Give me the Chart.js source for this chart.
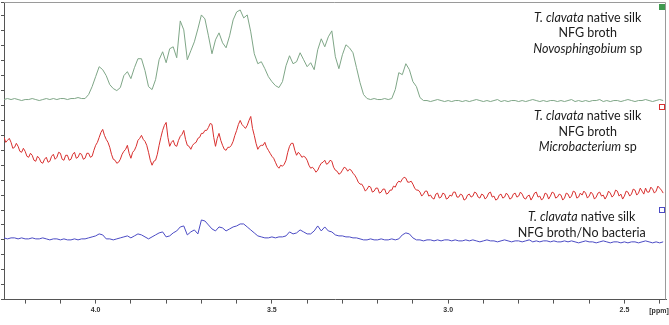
<!DOCTYPE html>
<html>
<head>
<meta charset="utf-8">
<script src="https://cdn.jsdelivr.net/npm/chart.js@4.4.1/dist/chart.umd.min.js"></script>
<style>
  html, body { margin: 0; padding: 0; background: #fff; }
  canvas { display: block; }
</style>
</head>
<body>
<canvas id="nmr" width="669" height="325"></canvas>
<script>
  // chemical shift grid: first point and spacing (ppm), axis runs high -> low
  const ppmStart = 4.26;
  const ppmStep = 0.01;
  const ppmStepFine = 0.005;   // red trace is read at twice the density (noisy)
  const ppmMin = 2.382;
  const ppmMax = 4.26;

  // Novosphingobium sp (top trace, green)
  const novosphingobium = [
    201,202,201,202,201,200,201,201,202,201,200,201,202,201,202,201,202,202,201,202,202,203,202,202,
    206,214,224,234,231,225,216,212,210,213,
    225,229,222,233,242,242,230,214,211,221,
    241,249,238,252,254,243,280,271,241,250,
    259,272,286,282,265,247,261,268,258,253,
    265,281,289,291,283,286,269,247,237,239,
    232,224,219,215,213,219,235,245,237,239,
    248,241,234,238,231,251,262,254,264,270,
    244,232,246,256,253,248,233,218,206,202,
    201,202,201,201,202,201,202,211,228,226,
    237,231,219,214,203,200,
    200,199,200,201,200,199,200,199,200,200,
    199,200,199,200,201,200,199,200,199,200,
    201,199,200,199,200,200,199,200,199,200,
    201,200,199,200,199,200,200,199,200,199,
    200,201,199,200,199,200,199,200,200,201,
    199,200,199,200,200,199,200,201,200,199,
    200,200,201,200,199,200,201,200
  ];

  // Microbacterium sp (middle trace, red) - 0.005 ppm spacing
  const microbacterium = [
    163,158,160,162,158,152,153,157,154,149,148,152,149,144,143,147,145,140,139,144,
    142,138,137,141,143,138,139,144,146,141,143,148,147,141,140,145,145,140,141,146,
    148,142,143,147,146,141,142,147,147,143,144,150,155,158,163,168,171,165,161,158,
    153,146,141,140,137,138,141,146,149,151,155,147,142,148,150,154,160,162,165,161,
    159,155,148,140,135,139,140,146,155,163,170,175,178,163,154,158,160,155,154,160,
    164,166,170,161,155,154,151,155,157,158,162,163,167,167,170,170,173,177,176,163,
    154,162,167,160,155,151,150,153,153,155,159,165,170,176,180,176,174,172,175,180,
    184,172,165,157,151,154,155,155,158,153,150,147,144,142,138,134,132,135,134,136,
    140,148,154,157,157,150,145,148,146,143,144,143,140,135,132,133,131,128,130,134,
    137,138,140,136,137,140,139,133,130,129,126,127,130,133,132,129,131,130,127,125,
    122,118,116,116,113,109,111,114,113,108,109,112,112,107,108,111,111,106,107,110,
    110,114,113,117,119,118,121,123,122,118,118,119,116,112,110,110,108,104,106,109,
    109,104,105,102,101,106,107,102,103,107,106,101,102,105,104,108,108,103,103,106,
    105,100,101,105,106,103,104,108,107,103,102,106,105,101,103,107,108,103,104,100,
    101,105,106,102,103,107,105,101,102,106,107,103,104,108,106,102,101,104,105,100,
    103,107,108,103,104,100,102,107,106,101,104,108,107,102,103,106,105,100,102,107,
    106,102,104,109,108,102,103,107,105,109,107,102,104,108,106,101,103,107,108,104,
    105,101,104,109,107,103,105,110,109,104,106,101,104,109,108,104,106,111,110,105,
    107,112,109,106,112,108,108,113,111,107,109,114,112,110,107
  ];

  // no bacteria control (bottom trace, blue)
  const noBacteria = [
    62,61,62,62,61,62,61,61,62,61,
    61,62,61,60,61,61,60,61,60,60,
    61,60,61,61,62,63,64,66,65,61,
    61,60,61,62,63,64,62,64,66,65,
    63,61,63,65,67,68,63,64,67,69,
    73,74,65,68,70,66,80,79,75,71,
    69,73,72,69,71,73,74,76,76,73,
    70,67,64,63,62,62,63,62,63,63,
    64,68,66,67,70,68,66,66,69,74,
    69,73,69,68,65,64,64,63,63,62,
    62,61,60,60,61,60,60,61,60,60,
    61,60,61,65,67,66,62,60,60,59,
    60,60,59,60,59,60,60,59,60,59,
    59,60,59,60,59,58,59,60,59,59,
    58,59,60,59,58,59,59,58,59,60,
    58,59,58,59,59,58,59,58,58,59,
    58,59,58,57,58,59,58,58,57,58,
    59,58,57,58,58,57,58,57,58,58,
    57,58,59,58,57,58,57,58
  ];

  const seriesColors = ['#7fa687', '#d8302f', '#4b4bc4'];

  // labels: [text, italic] pieces per line
  const labelBlocks = [
    { x: 2.604, y: 283, lines: [[['T. clavata', true], [' native silk', false]], [['NFG broth', false]], [['Novosphingobium', true], [' sp', false]]] },
    { x: 2.604, y: 184, lines: [[['T. clavata', true], [' native silk', false]], [['NFG broth', false]], [['Microbacterium', true], [' sp', false]]] },
    { x: 2.621, y: 83,  lines: [[['T. clavata', true], [' native silk', false]], [['NFG broth/No bacteria', false]]] }
  ];
  const markerLevels = [297, 196.5, 93.5];

  const toPoints = (vals, step) => vals.map((v, i) => ({ x: +(ppmStart - i * step).toFixed(3), y: v }));

  const decor = {
    id: 'decor',
    afterDraw(chart) {
      const { ctx, chartArea: a, scales: { x, y } } = chart;
      ctx.save();
      // frame
      ctx.strokeStyle = '#9a9a9a';
      ctx.lineWidth = 1;
      ctx.beginPath();
      ctx.moveTo(a.left, a.top + 0.5);
      ctx.lineTo(a.right - 0.5, a.top + 0.5);
      ctx.lineTo(a.right - 0.5, a.bottom);
      ctx.stroke();

      // trace markers at right edge
      markerLevels.forEach((lv, k) => {
        const py = Math.round(y.getPixelForValue(lv));
        if (k === 0) {
          ctx.fillStyle = '#3f9a4f';
          ctx.fillRect(a.right - 7, py, 6, 6);
        } else {
          ctx.strokeStyle = seriesColors[k];
          ctx.strokeRect(a.right - 6.5, py + 0.5, 5, 5);
        }
      });

      // annotation text
      ctx.fillStyle = '#1c1c1c';
      ctx.textBaseline = 'middle';
      ctx.textAlign = 'left';
      labelBlocks.forEach(b => {
        const cx = x.getPixelForValue(b.x);
        const top = y.getPixelForValue(b.y);
        b.lines.forEach((parts, li) => {
          let w = 0;
          parts.forEach(([t, it]) => {
            ctx.font = (it ? 'italic ' : '') + '12.5px Lato';
            w += ctx.measureText(t).width;
          });
          let px = cx - w / 2;
          parts.forEach(([t, it]) => {
            ctx.font = (it ? 'italic ' : '') + '12.5px Lato';
            ctx.fillText(t, px, top + li * 15.5);
            px += ctx.measureText(t).width;
          });
        });
      });

      // unit label
      ctx.font = 'bold 7px "Liberation Sans"';
      ctx.fillStyle = '#333';
      ctx.textAlign = 'center';
      ctx.fillText('[ppm]', a.right - 7, a.bottom + 11);
      ctx.restore();
    }
  };

  new Chart(document.getElementById('nmr'), {
    type: 'line',
    data: {
      datasets: [
        { label: 'Novosphingobium sp', data: toPoints(novosphingobium, ppmStep), borderColor: seriesColors[0] },
        { label: 'Microbacterium sp', data: toPoints(microbacterium, ppmStepFine), borderColor: seriesColors[1] },
        { label: 'No bacteria', data: toPoints(noBacteria, ppmStep), borderColor: seriesColors[2] }
      ]
    },
    options: {
      responsive: false,
      animation: false,
      layout: { padding: { left: 1, right: 3, top: 2, bottom: 9 } },
      elements: {
        point: { radius: 0 },
        line: { borderWidth: 1, tension: 0 }
      },
      plugins: {
        legend: { display: false },
        tooltip: { enabled: false }
      },
      scales: {
        x: {
          type: 'linear',
          reverse: true,
          min: ppmMin,
          max: ppmMax,
          border: { color: '#555' },
          grid: { drawOnChartArea: false, tickLength: 4, tickColor: '#555' },
          ticks: {
            stepSize: 0.1,
            includeBounds: false,
            autoSkip: false,
            maxRotation: 0,
            padding: 2,
            color: '#333',
            font: { size: 7, weight: 'bold', family: 'Liberation Sans' },
            callback: v => Math.abs(v * 2 - Math.round(v * 2)) < 1e-6 ? v.toFixed(1) : ''
          }
        },
        y: {
          min: 0,
          max: 299,
          border: { color: '#555' },
          grid: { drawOnChartArea: false, tickLength: 3, tickColor: '#555' },
          ticks: { display: false, stepSize: 15 }
        }
      }
    },
    plugins: [decor]
  });
</script>
</body>
</html>
